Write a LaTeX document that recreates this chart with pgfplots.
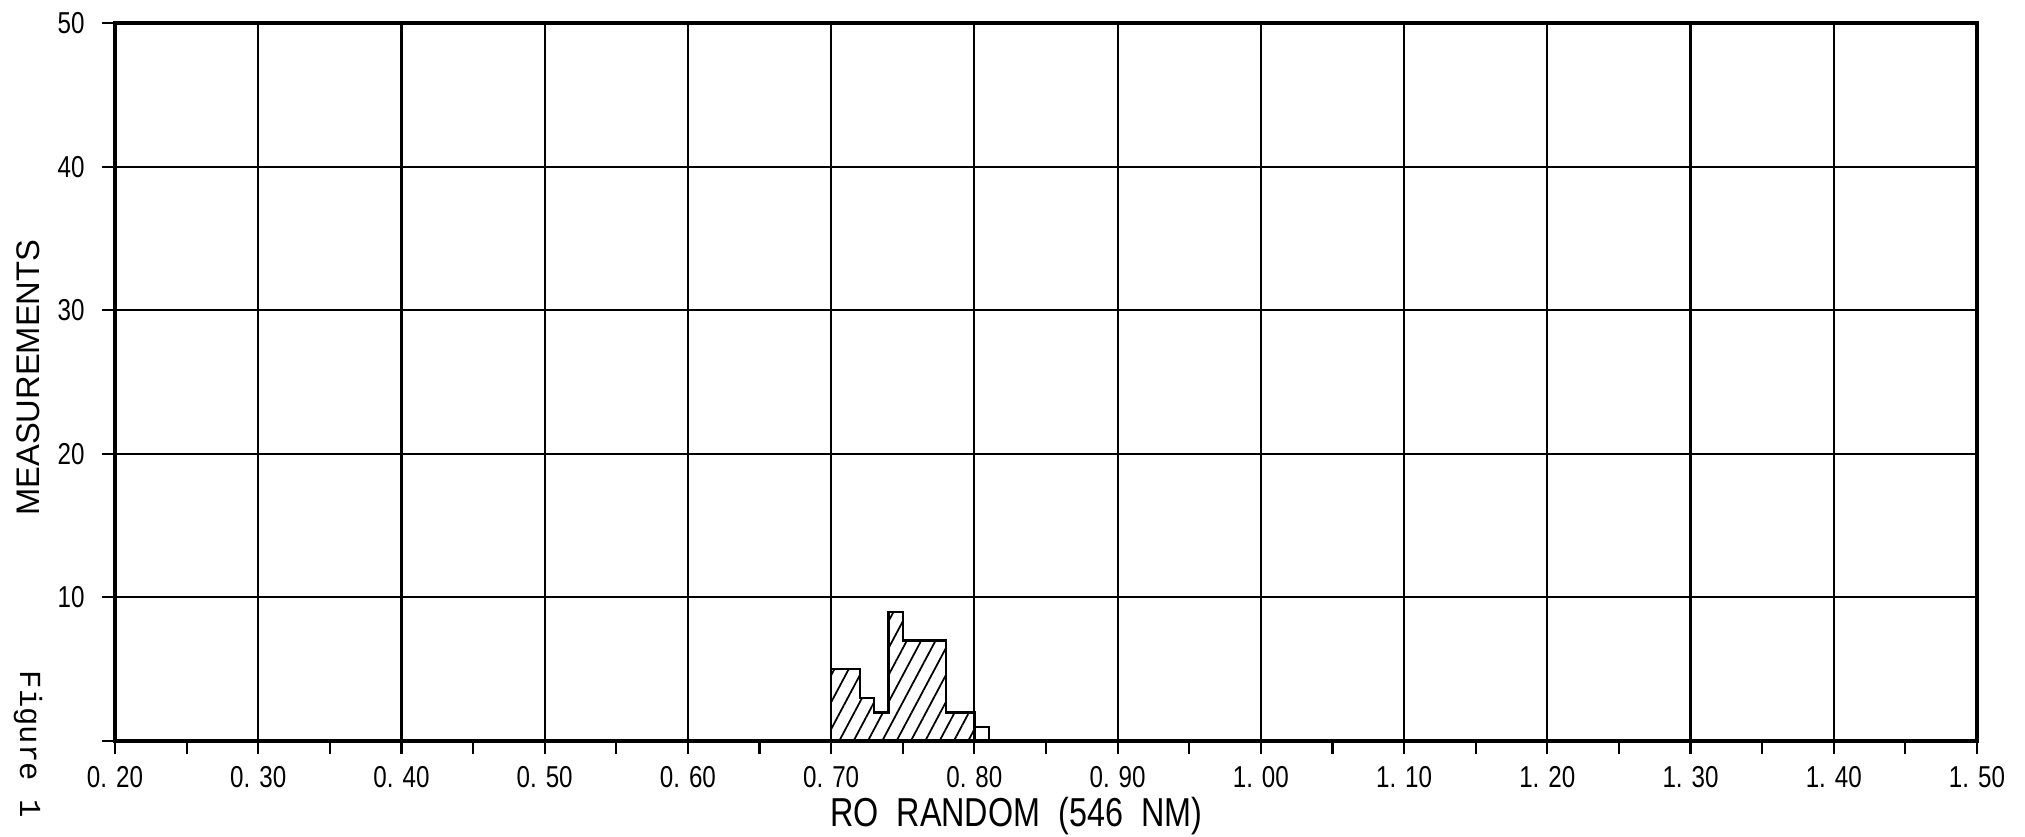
\documentclass[border=0pt]{standalone}
\usepackage{fontspec}
\setmainfont{Liberation Sans}[FakeStretch=0.8]
\newfontfamily\wide{Liberation Sans}
\newfontfamily\mono{Liberation Mono}
\usepackage{pgfplots}
\pgfplotsset{compat=1.18}
\usetikzlibrary{patterns.meta}
\begin{document}
\begin{tikzpicture}
\path[use as bounding box] (0,0) rectangle (20.25cm,8.37cm);
\begin{axis}[
  at={(1.15cm,0.96cm)}, anchor=south west,
  scale only axis, width=18.62cm, height=7.18cm,
  xmin=0.2, xmax=1.5, ymin=0, ymax=50,
  xtick={0.2,0.3,0.4,0.5,0.6,0.7,0.8,0.9,1.0,1.1,1.2,1.3,1.4,1.5},
  xticklabels={0. 20,0. 30,0. 40,0. 50,0. 60,0. 70,0. 80,0. 90,1. 00,1. 10,1. 20,1. 30,1. 40,1. 50},
  minor xtick={0.25,0.35,0.45,0.55,0.65,0.75,0.85,0.95,1.05,1.15,1.25,1.35,1.45},
  ytick={0,10,20,30,40,50},
  yticklabels={,10,20,30,40,50},
  xtick pos=bottom, ytick pos=left,
  tick align=outside,
  major tick length=0.13cm, minor tick length=0.13cm,
  tick style={black, line width=0.6pt},
  grid=major,
  major grid style={black, line width=0.6pt},
  axis line style={line width=0.9pt},
  /pgf/number format/assume math mode=true,
  xticklabel style={font=\fontsize{8.6}{9}\selectfont, yshift=0cm},
  yticklabel style={font=\fontsize{8.6}{9}\selectfont, xshift=-0.05cm},
  xlabel={RO\ \ RANDOM\ \ (546\ \ NM)},
  xlabel style={font=\fontsize{11.5}{12}\selectfont, at={(axis description cs:0.484,-0.1045)}, anchor=center},
  ylabel={MEASUREMENTS},
  ylabel style={font=\wide\fontsize{9.3}{10}\selectfont, at={(axis description cs:-0.0467,0.506)}, anchor=center, rotate=0},
]
\addplot[const plot, draw=black, line width=0.7pt,
  pattern={Lines[angle=62, distance=3.6pt, line width=0.5pt]}]
  coordinates {(0.70,0) (0.70,5) (0.72,3) (0.73,2) (0.74,9) (0.75,7) (0.78,2) (0.80,0)} \closedcycle;
\addplot[const plot, draw=black, line width=0.6pt]
  coordinates {(0.80,0) (0.80,1) (0.81,0)} \closedcycle;
\end{axis}
\node[rotate=-90, anchor=west, inner sep=0pt, font=\mono\fontsize{8.7}{9}\selectfont] at (0.28cm,1.67cm) {Figure 1};
\end{tikzpicture}
\end{document}
